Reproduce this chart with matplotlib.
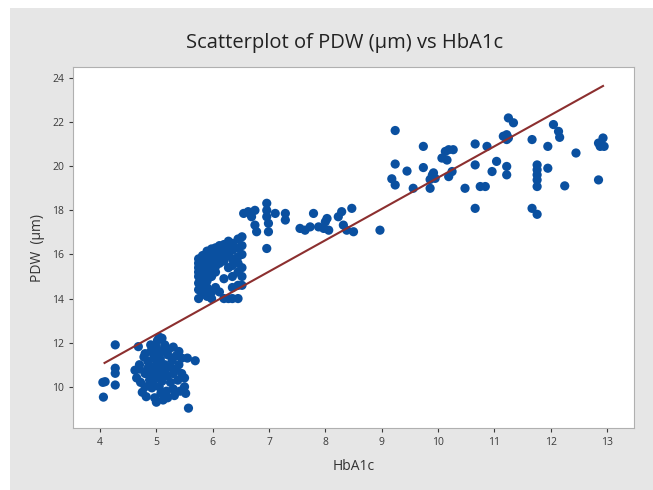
import matplotlib.pyplot as plt
import numpy as np
from matplotlib.patches import Rectangle

# valores (HbA1c, PDW)
# grupo 1: HbA1c entre 4 y 5.7
hba1c_g1 = [4.05, 4.06, 4.27, 4.27, 4.27, 4.27, 4.09, 4.68,
            4.62, 4.65, 4.70, 4.70, 4.72, 4.75, 4.78, 4.80, 4.80, 4.80, 4.82,
            4.85, 4.85, 4.88, 4.90, 4.90, 4.92, 4.95, 4.95, 4.95, 4.97, 5.00,
            5.00, 5.00, 5.00, 5.00, 5.00, 5.02, 5.05, 5.05, 5.07, 5.08, 5.10,
            5.10, 5.10, 5.10, 5.12, 5.15, 5.15, 5.15, 5.18, 5.20, 5.20, 5.20,
            5.22, 5.25, 5.25, 5.28, 5.30, 5.30, 5.30, 5.32, 5.35, 5.35, 5.38,
            5.40, 5.40, 5.42, 5.45, 5.45, 5.50, 5.50, 5.52, 5.55, 5.57, 5.69,
            5.05, 4.90]
pdw_g1 = [10.20, 9.53, 11.90, 10.84, 10.61, 10.08, 10.23, 11.82,
          10.75, 10.40, 10.80, 11.00, 10.20, 9.75, 11.35, 11.50, 10.60, 10.00, 9.55,
          11.15, 10.85, 10.30, 11.60, 10.60, 9.95, 11.30, 10.90, 10.10, 9.50, 11.80,
          11.50, 11.00, 10.70, 10.40, 9.30, 12.10, 10.90, 10.00, 11.25, 9.70, 12.20,
          11.60, 10.55, 10.25, 9.40, 11.90, 11.00, 10.75, 9.80, 11.45, 10.50, 9.50,
          11.70, 10.90, 10.20, 11.20, 11.80, 10.60, 9.90, 9.60, 11.40, 10.80, 10.30,
          11.60, 11.00, 9.80, 10.60, 11.30, 10.40, 10.00, 9.70, 11.30, 9.03, 11.18,
          12.25, 11.90]

# grupo 2: HbA1c entre 5.7 y 6.6
hba1c_g2 = [5.75] * 8 + [5.82] * 8 + [5.90] * 10 + [5.98] * 9 + [6.05] * 7 + \
    [6.12] * 6 + [6.20] * 6 + [6.28] * 5 + [6.35] * 7 + [6.45] * 7 + [6.52] * 6
pdw_g2 = [14.0, 14.4, 14.7, 15.0, 15.2, 15.4, 15.6, 15.8,
          14.2, 14.6, 14.9, 15.1, 15.3, 15.5, 15.7, 15.95,
          14.1, 14.5, 14.8, 15.0, 15.2, 15.4, 15.6, 15.8, 16.0, 16.15,
          14.0, 14.3, 15.0, 15.3, 15.5, 15.7, 15.9, 16.1, 16.25,
          14.5, 15.2, 15.45, 15.65, 15.85, 16.05, 16.3,
          14.3, 15.6, 15.8, 16.0, 16.2, 16.4,
          14.0, 14.9, 15.7, 15.95, 16.15, 16.45,
          14.0, 15.4, 16.0, 16.3, 16.6,
          14.0, 14.5, 15.0, 15.5, 15.8, 16.2, 16.5,
          14.0, 14.6, 15.2, 15.6, 15.9, 16.3, 16.7,
          14.6, 15.0, 15.4, 16.0, 16.4, 16.8]

# grupo 3: HbA1c entre 6.5 y 9
hba1c_g3 = [6.55, 6.63, 6.69, 6.75, 6.75, 6.78, 6.96, 6.96, 6.96, 6.99, 6.99,
            6.96, 7.11, 7.29, 7.29, 7.55, 7.64, 7.73, 7.79, 7.88, 7.97, 8.00,
            8.03, 8.06, 8.23, 8.29, 8.32, 8.38, 8.47, 8.50, 8.97]
pdw_g3 = [17.86, 17.94, 17.71, 18.00, 17.33, 17.03, 18.32, 18.00, 17.71, 17.41,
          17.03, 16.27, 17.86, 17.86, 17.56, 17.18, 17.10, 17.25, 17.86, 17.25,
          17.18, 17.48, 17.63, 17.10, 17.71, 17.94, 17.33, 17.10, 18.09, 17.03,
          17.10]

# grupo 4: HbA1c mayor que 9
hba1c_g4 = [9.24, 9.24, 9.18, 9.24, 9.45, 9.56, 9.74, 9.74, 9.86, 9.90, 9.95,
            9.92, 9.86, 10.07, 10.13, 10.19, 10.27, 10.16, 10.19, 10.25, 10.48,
            10.66, 10.66, 10.66, 10.75, 10.84, 10.87, 10.96, 11.04, 11.22, 11.22,
            11.16, 11.22, 11.25, 11.22, 11.25, 11.34, 11.67, 11.67, 11.76, 11.76,
            11.76, 11.76, 11.76, 11.76, 11.95, 11.95, 12.05, 12.14, 12.16, 12.25,
            12.45, 12.85, 12.93, 12.95, 12.88, 12.85]
pdw_g4 = [21.62, 20.10, 19.43, 19.15, 19.78, 19.00, 20.90, 19.94, 19.40, 19.60,
          19.45, 19.70, 19.00, 20.37, 20.67, 20.75, 20.75, 20.28, 19.53, 19.76,
          19.00, 21.01, 20.06, 18.09, 19.08, 19.08, 20.90, 19.76, 20.22, 19.99,
          19.61, 21.36, 21.43, 21.28, 21.21, 22.19, 21.97, 21.21, 18.09, 17.82,
          20.06, 19.84, 19.61, 19.38, 19.08, 20.90, 19.91, 21.89, 21.58, 21.31,
          19.11, 20.60, 21.05, 21.28, 20.90, 20.90, 19.38]

# recta de ajuste (extremos)
fit_x = [4.08, 12.93]
fit_y = [11.08, 23.64]

x_ticks = [4, 5, 6, 7, 8, 9, 10, 11, 12, 13]
y_ticks = [10, 12, 14, 16, 18, 20, 22, 24]

hba1c = np.concatenate([hba1c_g1, hba1c_g2, hba1c_g3, hba1c_g4])
pdw = np.concatenate([pdw_g1, pdw_g2, pdw_g3, pdw_g4])

plt.rcParams['font.family'] = ['Open Sans', 'DejaVu Sans']

fig = plt.figure(figsize=(6.53, 4.9), dpi=100, facecolor='white')
# panel gris de fondo
fig.patches.append(Rectangle((10 / 653, 0), 1, 1 - 8 / 490, transform=fig.transFigure,
                             facecolor='#e6e6e6', edgecolor='none', zorder=-5))

ax = fig.add_axes([73 / 653, 1 - 428 / 490, (634 - 73) / 653, (428 - 67) / 490])
ax.set_zorder(2)
ax.set_facecolor('white')

ax.scatter(hba1c, pdw, s=44, color='#0a50a0', edgecolors='none', zorder=3)
ax.plot(fit_x, fit_y, color='#8c2f2f', linewidth=1.5, zorder=4)

ax.set_xlim(3.52, 13.48)
ax.set_ylim(8.13, 24.5)
ax.set_xticks(x_ticks)
ax.set_yticks(y_ticks)
ax.tick_params(labelsize=7.5, colors='#3a3a3a', length=3, width=0.8)
for s in ax.spines.values():
    s.set_color('#b0b0b0')
    s.set_linewidth(0.8)

fig.text(0.528, 1 - 43 / 490, 'Scatterplot of PDW (µm) vs HbA1c', ha='center', va='center',
         fontsize=14.5, color='#222222', zorder=3)
ax.set_xlabel('HbA1c', fontsize=10, color='#333333', labelpad=8)
ax.set_ylabel('PDW  (µm)', fontsize=10, color='#333333', labelpad=5)

fig.savefig('out.png', dpi=100, facecolor=fig.get_facecolor())
